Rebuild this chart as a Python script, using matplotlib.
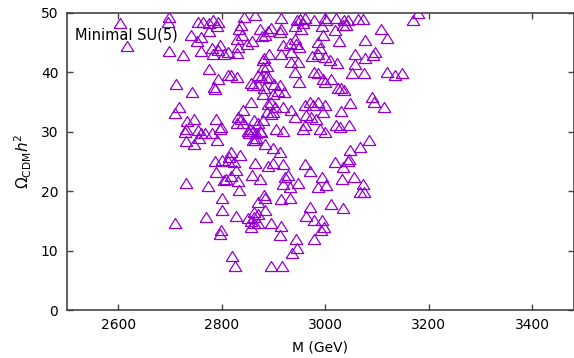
import numpy as np
import matplotlib
matplotlib.use("Agg")
from matplotlib import pyplot as plt

# M (GeV) and Omega_CDM h^2
M = [2603, 2617, 2697, 2695, 2698, 2725, 2740, 2754, 2763, 2760, 2751, 2776, 2775, 2792, 2790,
     2759, 2780, 2783, 2796, 2805, 2776, 2792, 2785, 2786, 2712, 2742, 2718, 2710, 2733, 2747,
     2731, 2728, 2753, 2760, 2767, 2755, 2730, 2746, 2780, 2791, 2789, 2799, 2796, 2783, 2793,
     2853, 2860,
     # lower part
     2731, 2773, 2801, 2801, 2770, 2709, 2799, 2796, 2820, 2825, 2805, 2789, 2818, 2809, 2827,
     2832, 2834, 2828, 2786, 2800, 2812, 2823,
     2865, 2889, 2899, 2919, 2859, 2874, 2882, 2884, 2869, 2863, 2884, 2850, 2857, 2862, 2870,
     2863, 2857, 2870, 2896, 2915, 2912, 2914, 2931, 2922, 2928, 2919, 2931, 2947, 2960, 2970,
     2944, 2946, 2936, 2896, 2917, 2970, 2963, 2978, 2994, 2997, 2992, 2979, 2986, 2994, 3002,
     3018, 3034, 3044, 3032, 3055, 3072, 3067, 3074, 3012, 3034,
     # upper middle
     2843, 2865, 2914, 2946, 2952, 2960, 2957, 2979, 2999, 3002, 3021, 3037, 3034, 2838, 2834,
     2873, 2896, 2889, 2914, 2912, 2941, 2954, 2993, 3018, 2883, 2877, 2839, 2858, 2830, 2849,
     2831, 2830, 2811, 2918, 2931, 2942, 2944, 2933, 2950, 2915, 2891, 2881, 2880, 2986, 2989,
     2995, 3026, 2974, 2986, 3000, 3010, 3023, 2888, 2879, 2934, 2947, 2942, 2950, 2979, 2986,
     2995, 2999, 3012, 3024, 3031, 2811, 2817, 2830, 2870, 2876, 2856, 2860, 2886, 2892, 2870,
     2881, 2901, 2912, 2908, 2921, 2899, 2880, 2856, 2889, 2896, 2902, 2899, 2918, 2934, 2888,
     2896, 2841, 2831, 2838, 2830, 2841, 2863, 2869, 2880, 2854, 2860, 2867, 2867, 2850, 2873,
     2905, 2918, 2941, 2960, 2970, 2976, 2986, 2999, 2995, 2963, 2973, 2983, 2960, 2957, 2989,
     2999, 3021, 3031, 2818, 2813, 2836, 2883, 2899, 2912, 2865, 2876,
     # right
     3043, 3063, 3073, 3041, 3179, 3170, 3107, 3120, 3077, 3057, 3077, 3097, 3092, 3057, 3052,
     3075, 3120, 3134, 3148, 3037, 3047, 3090, 3094, 3113, 3045, 3084, 3068, 3047, 3045, 3028]

omega = [48.2, 44.4, 49.3, 48.5, 43.6, 42.9, 46.3, 48.5, 48.5, 45.9, 45.2, 48.2, 46.9, 48.5, 47.8,
         43.5, 44.0, 43.1, 44.5, 43.1, 40.5, 38.9, 37.5, 37.2, 38.0, 36.6, 34.2, 33.1, 31.8, 32.2,
         30.5, 30.0, 30.3, 29.7, 29.8, 29.0, 28.4, 28.0, 29.7, 28.6, 32.1, 30.8, 30.4, 48.7, 43.7,
         29.7, 28.6,
         21.3, 20.8, 18.9, 16.8, 15.7, 14.7, 13.4, 12.8, 9.1, 7.4, 21.8, 23.2, 22.5, 22.1, 23.5,
         21.7, 20.2, 15.8, 25.0, 25.3, 25.1, 24.9,
         24.8, 24.3, 24.7, 24.5, 22.7, 22.0, 19.3, 18.9, 18.2, 16.5, 16.8, 15.4, 15.0, 15.7, 16.1,
         14.6, 14.0, 14.6, 14.6, 14.1, 12.6, 18.6, 18.9, 22.4, 22.7, 21.2, 20.7, 21.4, 24.5, 23.4,
         11.9, 10.4, 9.6, 7.4, 7.4, 17.4, 15.8, 15.1, 15.1, 14.0, 13.4, 12.0, 20.7, 22.3, 21.0,
         24.9, 24.1, 25.1, 22.0, 22.4, 21.2, 19.9, 19.9, 17.8, 17.1,
         49.3, 49.6, 49.1, 48.7, 49.0, 49.1, 48.2, 48.7, 49.1, 48.7, 49.1, 48.7, 48.0, 47.9, 47.2,
         47.2, 47.5, 46.9, 47.2, 46.7, 47.8, 47.2, 47.8, 47.1, 46.2, 46.1, 46.3, 45.2, 45.5, 44.8,
         44.3, 43.2, 43.4, 44.6, 44.9, 45.6, 44.8, 43.4, 44.3, 43.0, 43.0, 42.4, 42.0, 45.1, 44.1,
         46.3, 45.2, 42.7, 43.0, 42.6, 42.0, 41.5, 41.1, 40.8, 41.7, 41.7, 40.0, 38.3, 40.1, 39.9,
         38.8, 38.4, 38.9, 37.3, 37.4, 39.6, 39.5, 39.2, 39.5, 39.2, 38.1, 37.8, 39.2, 39.1, 37.8,
         37.4, 38.0, 37.8, 36.8, 36.6, 36.3, 36.4, 35.0, 34.6, 35.0, 34.2, 33.3, 34.2, 33.6, 33.3,
         33.0, 33.6, 32.5, 32.2, 31.4, 31.4, 31.9, 31.4, 31.9, 30.5, 30.1, 29.7, 29.0, 30.1, 30.1,
         30.5, 30.1, 32.5, 34.5, 35.0, 34.5, 35.0, 34.5, 33.3, 32.8, 32.5, 32.2, 31.1, 30.5, 30.5,
         30.0, 31.1, 33.4, 26.6, 25.8, 26.1, 28.0, 27.3, 26.6, 28.6, 30.0,
         48.7, 49.0, 48.9, 47.9, 49.9, 48.7, 47.2, 45.7, 45.4, 43.1, 42.3, 43.4, 42.9, 41.3, 39.8,
         39.9, 40.0, 39.5, 39.9, 37.0, 34.8, 35.9, 35.0, 34.2, 31.1, 28.6, 27.4, 26.9, 25.4, 30.8]

xticks = [2600, 2800, 3000, 3200, 3400]
yticks = [0, 10, 20, 30, 40, 50]

# slightly flat open triangle, like the gnuplot point type
tri = [(-1, -0.8), (1, -0.8), (0, 0.8), (-1, -0.8)]

fig = plt.figure(figsize=(5.74, 3.58), dpi=100)
ax = fig.add_axes([66.7 / 574, 1 - 310 / 358, (573.5 - 66.7) / 574, (310 - 12.7) / 358])

ax.plot(M, omega, linestyle='none', marker=tri, markersize=9,
        markerfacecolor='none', markeredgecolor='#9400D3', markeredgewidth=0.9)

ax.set_xlim(2500, 3480)
ax.set_ylim(0, 50)
ax.set_xticks(xticks)
ax.set_yticks(yticks)
ax.tick_params(direction='in', length=4, width=1, color='#444444',
               top=True, right=True, labelsize=10, pad=6)
for s in ax.spines.values():
    s.set_color('#444444')
    s.set_linewidth(1.2)

ax.set_xlabel('M (GeV)', fontsize=10, labelpad=6)
ax.set_ylabel(r'$\Omega_{\rm CDM}h^2$', fontsize=11, labelpad=5)
ax.text(0.017, 0.95, 'Minimal SU(5)', transform=ax.transAxes,
        fontsize=10.5, va='top', ha='left')

fig.savefig('out.png', dpi=100)
